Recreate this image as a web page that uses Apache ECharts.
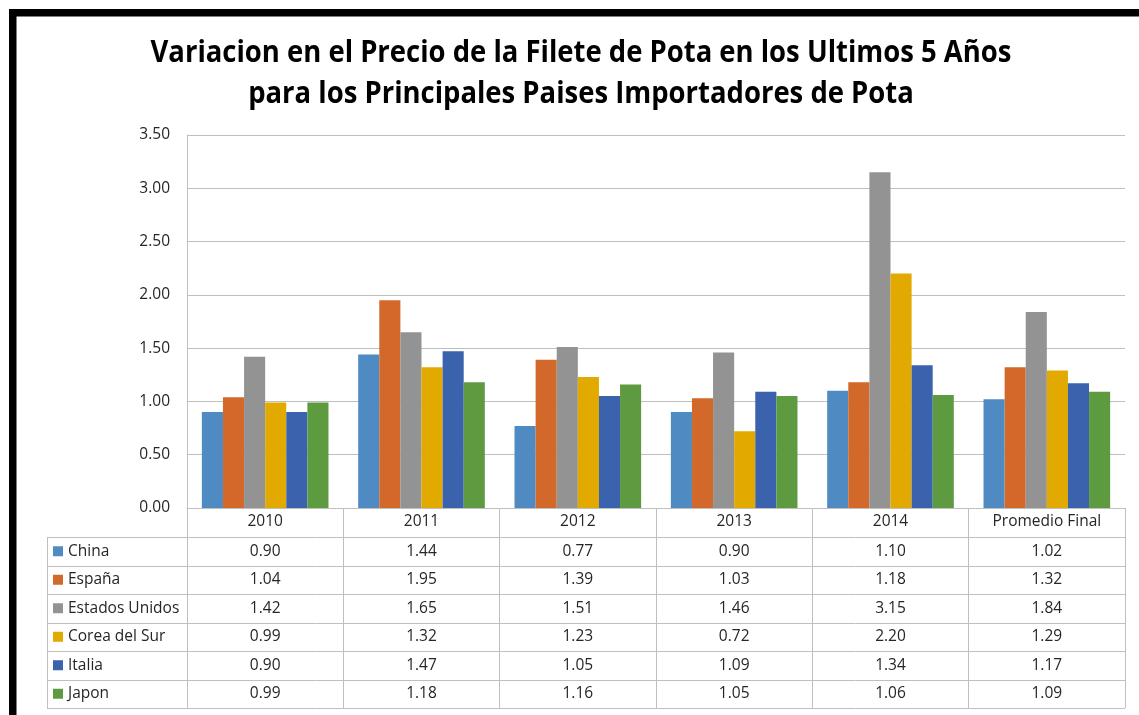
<!DOCTYPE html>
<html>
<head>
<meta charset="utf-8">
<script src="https://cdn.jsdelivr.net/npm/echarts@6/dist/echarts.min.js"></script>
<style>
  html, body { margin: 0; padding: 0; background: #fff; }
  #main { width: 1139px; height: 715px; }
</style>
</head>
<body>
<div id="main"></div>
<script>
// datos
const categories = ['2010', '2011', '2012', '2013', '2014', 'Promedio Final'];
const seriesNames = ['China', 'España', 'Estados Unidos', 'Corea del Sur', 'Italia', 'Japon'];
const china = [0.90, 1.44, 0.77, 0.90, 1.10, 1.02];
const espana = [1.04, 1.95, 1.39, 1.03, 1.18, 1.32];
const eeuu = [1.42, 1.65, 1.51, 1.46, 3.15, 1.84];
const corea = [0.99, 1.32, 1.23, 0.72, 2.20, 1.29];
const italia = [0.90, 1.47, 1.05, 1.09, 1.34, 1.17];
const japon = [0.99, 1.18, 1.16, 1.05, 1.06, 1.09];
const yMin = 0, yMax = 3.5, yStep = 0.5;

const allValues = [china, espana, eeuu, corea, italia, japon];
const colors = ['#4f8bc2', '#d2692b', '#939393', '#e2a900', '#3a62ad', '#5e9a40'];
const font = '"Open Sans", sans-serif';
const textColor = '#262626';
const lineColor = '#bfbfbf';
const fs = 15.5;

const chart = echarts.init(document.getElementById('main'));

const series = seriesNames.map((name, i) => ({
    name: name,
    type: 'bar',
    data: allValues[i],
    barGap: 0,
    barCategoryGap: '19%',
    itemStyle: { color: colors[i] }
}));

chart.setOption({
    animation: false,
    backgroundColor: '#ffffff',
    grid: { left: 187, right: 14, top: 135, bottom: 207, containLabel: false },
    xAxis: {
        type: 'category',
        data: categories,
        axisLine: { lineStyle: { color: lineColor, width: 1 } },
        axisTick: { show: true, interval: 0, length: 200, lineStyle: { color: lineColor } },
        axisLabel: { interval: 0, margin: 6, fontFamily: font, fontSize: fs, color: textColor }
    },
    yAxis: {
        type: 'value',
        min: yMin,
        max: yMax,
        interval: yStep,
        axisLine: { show: true, lineStyle: { color: lineColor } },
        axisTick: { show: false },
        axisLabel: {
            margin: 17,
            fontFamily: font,
            fontSize: fs,
            color: textColor,
            formatter: v => v.toFixed(2)
        },
        splitLine: { lineStyle: { color: lineColor } }
    },
    series: series
});

// tabla de datos bajo el eje
const tableLeft = 47;
const tableRight = 1125;
const rowTop = 537;
const rowH = 28.5;
const g = [];

// marco negro
g.push({ type: 'rect', shape: { x: 9, y: 9, width: 1130, height: 7.5 }, style: { fill: '#000' } });
g.push({ type: 'rect', shape: { x: 9, y: 9, width: 7.5, height: 706 }, style: { fill: '#000' } });

// titulo
const titleLines = [
    'Variacion en el Precio de la Filete de Pota en los Ultimos 5 Años',
    'para los Principales Paises Importadores de Pota'
];
titleLines.forEach((t, i) => {
    g.push({
        type: 'text',
        x: 581, y: 53 + i * 41,
        scaleX: 0.915,
        style: {
            text: t, fontFamily: font, fontWeight: 'bold', fontSize: 30,
            fill: '#000', align: 'center', verticalAlign: 'middle'
        }
    });
});

for (let r = 0; r <= seriesNames.length; r++) {
    const y = Math.round(rowTop + r * rowH) + 0.5;
    g.push({ type: 'line', shape: { x1: tableLeft, y1: y, x2: tableRight, y2: y }, style: { stroke: lineColor, lineWidth: 1 } });
}
g.push({ type: 'line', shape: { x1: tableLeft + 0.5, y1: rowTop, x2: tableLeft + 0.5, y2: rowTop + rowH * seriesNames.length }, style: { stroke: lineColor, lineWidth: 1 } });

seriesNames.forEach((name, r) => {
    const cy = rowTop + r * rowH + rowH / 2;
    g.push({ type: 'rect', shape: { x: 53, y: cy - 5, width: 10, height: 10 }, style: { fill: colors[r] } });
    g.push({
        type: 'text', x: 68, y: cy,
        style: { text: name, fontFamily: font, fontSize: fs, fill: textColor, verticalAlign: 'middle' }
    });
    categories.forEach((c, k) => {
        const cx = chart.convertToPixel({ xAxisIndex: 0 }, c);
        g.push({
            type: 'text', x: cx, y: cy,
            style: { text: allValues[r][k].toFixed(2), fontFamily: font, fontSize: fs, fill: textColor, align: 'center', verticalAlign: 'middle' }
        });
    });
});

chart.setOption({ graphic: g });
</script>
</body>
</html>
